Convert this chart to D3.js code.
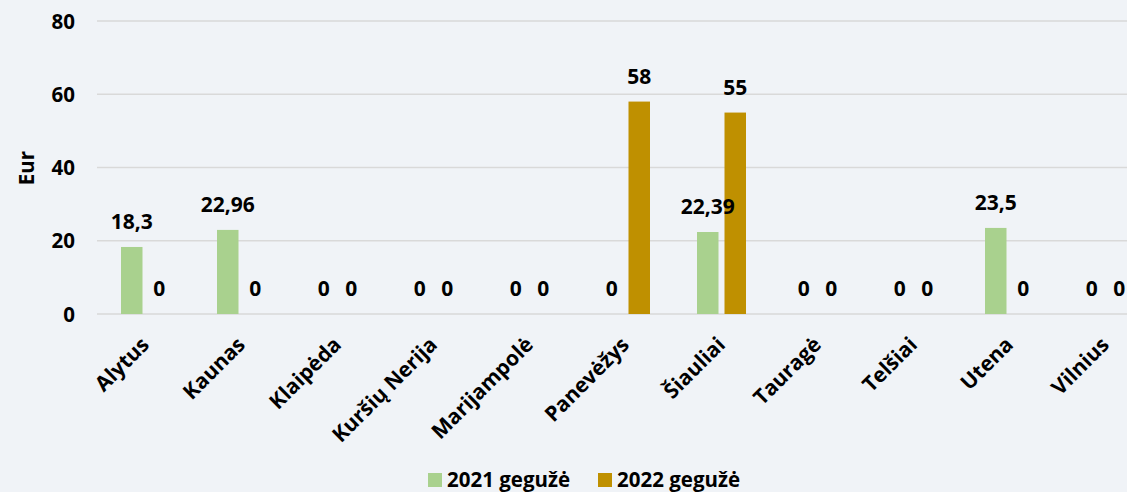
<!DOCTYPE html>
<html><head><meta charset="utf-8">
<script src="https://cdn.jsdelivr.net/npm/d3@7"></script>
<style>
html,body{margin:0;padding:0;background:#F0F3F7;}
svg{display:block;font-family:"Open Sans",sans-serif;font-weight:700;}
</style></head>
<body>
<svg id="c" width="1127" height="492"></svg>
<script>
const categories = ["Alytus","Kaunas","Klaipėda","Kuršių Nerija","Marijampolė","Panevėžys","Šiauliai","Tauragė","Telšiai","Utena","Vilnius"];
const series2021 = [18.3,22.96,0,0,0,0,22.39,0,0,23.5,0];
const series2022 = [0,0,0,0,0,58,55,0,0,0,0];
const seriesNames = ["2021 gegužė","2022 gegužė"];
const yTicks = [0,20,40,60,80];
const colors = ["#A9D18E","#BF9000"];

const svg = d3.select("#c");
svg.append("rect").attr("width",1127).attr("height",492).attr("fill","#F0F3F7");

const x = d3.scaleBand().domain(categories).range([97.5,1153.5]).paddingInner(0).paddingOuter(0);
const y = d3.scaleLinear().domain([0,80]).range([314,21]);
const barW = 21.5, gap = 6;

// gridlines
svg.append("g").selectAll("line").data(yTicks).join("line")
  .attr("x1",97).attr("x2",1127)
  .attr("y1",d=>y(d)).attr("y2",d=>y(d))
  .attr("stroke","#D9D9D9").attr("stroke-width",1.5);

// y tick labels
const yAxis = d3.axisLeft(y).tickValues(yTicks).tickSize(0).tickPadding(0).tickFormat(d3.format("d"));
const ga = svg.append("g").attr("transform","translate(75,0)").call(yAxis);
ga.select(".domain").remove();
ga.selectAll("text").attr("font-size",20.5).attr("font-family","Open Sans").attr("font-weight",700).attr("fill","#000").attr("dy","0.35em");

svg.append("text").attr("transform","translate(34,168) rotate(-90)")
  .attr("text-anchor","middle").attr("font-size",20.5).attr("fill","#000").text("Eur");

const groups = [series2021, series2022];
const offs = [-gap/2-barW, gap/2];
const barLayer = svg.append("g");
const labelLayer = svg.append("g");
groups.forEach((vals,si)=>{
  const off = offs[si];
  barLayer.append("g").selectAll("rect").data(vals).join("rect")
    .attr("x",(d,i)=>x(categories[i])+x.bandwidth()/2+off)
    .attr("width",barW)
    .attr("y",d=>y(d))
    .attr("height",d=>y(0)-y(d))
    .attr("fill",colors[si]);
  labelLayer.append("g").selectAll("text").data(vals).join("text")
    .attr("x",(d,i)=>x(categories[i])+x.bandwidth()/2+off+barW/2)
    .attr("y",d=>y(d)-18)
    .attr("text-anchor","middle").attr("font-size",21).attr("fill","#000")
    .text(d=>String(d).replace(".",","));
});

// x labels
svg.append("g").selectAll("text").data(categories).join("text")
  .attr("transform",d=>`translate(${x(d)+x.bandwidth()/2+5},${346}) rotate(-45)`)
  .attr("text-anchor","end").attr("font-size",21).attr("fill","#000")
  .text(d=>d);

// legend
const leg = [{x:428,tx:447},{x:598,tx:617}];
leg.forEach((l,i)=>{
  svg.append("rect").attr("x",l.x).attr("y",473).attr("width",14).attr("height",14).attr("fill",colors[i]);
  svg.append("text").attr("x",l.tx).attr("y",487).attr("font-size",20.5).attr("fill","#000").text(seriesNames[i]);
});
</script>
</body></html>
